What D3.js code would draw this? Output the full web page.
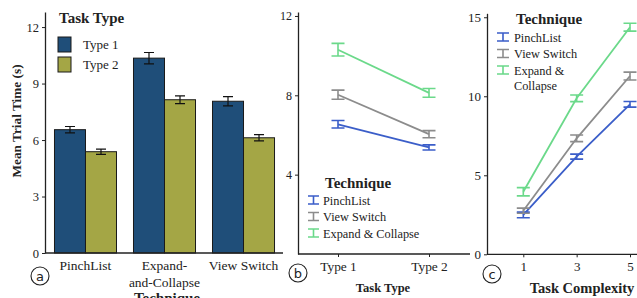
<!DOCTYPE html>
<html><head><meta charset="utf-8">
<script src="https://cdn.jsdelivr.net/npm/d3@7"></script>
<style>
body{margin:0;background:#fff}
svg{display:block}
text{font-family:"Liberation Serif","DejaVu Serif",serif;fill:#222}
</style></head>
<body>
<svg id="c" width="637" height="298"></svg>
<script>
// ---- Data ----
const techniquesA = ["PinchList", "Expand-and-Collapse", "View Switch"];
const taskTypes = ["Type 1", "Type 2"];
const type1Means = [6.55, 10.35, 8.06];
const type1Err = [0.17, 0.3, 0.25];
const type2Means = [5.38, 8.14, 6.12];
const type2Err = [0.14, 0.21, 0.17];
const yTicksA = [0, 3, 6, 9, 12];

const techniquesB = ["PinchList", "View Switch", "Expand & Collapse"];
const bMeans = [[6.54, 5.37], [8.03, 6.04], [10.3, 8.12]];
const bErr = [[0.19, 0.13], [0.23, 0.18], [0.32, 0.22]];
const yTicksB = [4, 8, 12];

const complexity = [1, 3, 5];
const cMeans = [[2.49, 6.18, 9.49], [2.76, 7.34, 11.28], [3.96, 9.87, 14.37]];
const cErr = [[0.18, 0.16, 0.18], [0.16, 0.21, 0.25], [0.26, 0.21, 0.25]];
const yTicksC = [0, 5, 10, 15];

const lineColors = ["#3b5ec9", "#8c8c8c", "#6bd98a"];
const barColors = ["#1f4e79", "#a4a645"];

const svg = d3.select("#c");

function styleAxis(g, fs){
  g.selectAll("path.domain").attr("stroke","#222").attr("stroke-width",1.3);
  g.selectAll(".tick line").attr("stroke","#222");
  g.selectAll(".tick text").style("font-family","'Liberation Serif',serif").style("font-size",fs+"px").attr("fill","#333");
}
function circled(x,y,letter){
  svg.append("circle").attr("cx",x).attr("cy",y).attr("r",9).attr("fill","none").attr("stroke","#222").attr("stroke-width",1.1);
  svg.append("text").attr("x",x).attr("y",y+4.5).attr("text-anchor","middle")
    .style("font-family","'DejaVu Sans',sans-serif").style("font-size","13px").text(letter);
}
function errPath(cx, yTop, yBot, hw){
  return `M${cx-hw},${yTop}H${cx+hw}M${cx},${yTop}V${yBot}M${cx-hw},${yBot}H${cx+hw}`;
}

// ---- Panel a ----
{
  const y = d3.scaleLinear().domain([0,12.8]).range([253,12]);
  const x0 = d3.scaleBand().domain(techniquesA).range([45,284]).paddingInner(0.215).paddingOuter(0.12);
  const x1 = d3.scaleBand().domain(taskTypes).range([0,x0.bandwidth()]);
  const means = [type1Means, type2Means], errs = [type1Err, type2Err];
  taskTypes.forEach((t,ti)=>{
    techniquesA.forEach((c,ci)=>{
      const bx = x0(c)+x1(t), v = means[ti][ci], e = errs[ti][ci];
      svg.append("rect").attr("x",bx).attr("y",y(v)).attr("width",x1.bandwidth()).attr("height",y(0)-y(v))
        .attr("fill",barColors[ti]).attr("stroke","#1a1a1a").attr("stroke-width",1);
      const cx = bx + x1.bandwidth()/2;
      svg.append("path").attr("d",errPath(cx,y(v+e),y(v-e),5))
        .attr("stroke","#111").attr("stroke-width",1.2).attr("fill","none");
    });
  });
  const ga = svg.append("g").attr("transform","translate(45,0)").call(d3.axisLeft(y).tickValues(yTicksA).tickSize(3).tickPadding(3).tickSizeOuter(0));
  styleAxis(ga, 12.5);
  svg.append("line").attr("x1",45).attr("x2",283).attr("y1",253).attr("y2",253).attr("stroke","#222").attr("stroke-width",1.3);
  const lab = {"PinchList":["PinchList"],"Expand-and-Collapse":["Expand-","and-Collapse"],"View Switch":["View Switch"]};
  techniquesA.forEach(c=>{
    const cx = x0(c)+x0.bandwidth()/2;
    lab[c].forEach((l,i)=>svg.append("text").attr("x",cx).attr("y",270+i*16.5).attr("text-anchor","middle").style("font-size","13.5px").text(l));
  });
  svg.append("text").attr("x",167).attr("y",303).attr("text-anchor","middle").style("font-size","15px").style("font-weight","bold").text("Technique");
  svg.append("text").attr("transform","translate(21,121) rotate(-90)").attr("text-anchor","middle").style("font-size","13.3px").style("font-weight","bold").text("Mean Trial Time (s)");
  svg.append("text").attr("x",59).attr("y",22.5).style("font-size","15px").style("font-weight","bold").text("Task Type");
  taskTypes.forEach((t,i)=>{
    svg.append("rect").attr("x",58).attr("y",37+i*20).attr("width",13).attr("height",15).attr("fill",barColors[i]).attr("stroke","#1a1a1a");
    svg.append("text").attr("x",83).attr("y",49+i*20).style("font-size","13px").text(t);
  });
  circled(40,276,"a");
}

// ---- Panel b ----
{
  const y = d3.scaleLinear().domain([0,12.2]).range([254,12]);
  const x = d3.scalePoint().domain(taskTypes).range([338,429]);
  techniquesB.forEach((tq,i)=>{
    const pts = taskTypes.map((t,j)=>[x(t), y(bMeans[i][j])]);
    svg.append("path").attr("d",d3.line()(pts)).attr("stroke",lineColors[i]).attr("stroke-width",1.8).attr("fill","none");
    taskTypes.forEach((t,j)=>{
      const cx=x(t), v=bMeans[i][j], e=bErr[i][j];
      svg.append("path").attr("d",errPath(cx,y(v+e),y(v-e),6.5))
        .attr("stroke",lineColors[i]).attr("stroke-width",1.6).attr("fill","none");
    });
  });
  const gy = svg.append("g").attr("transform","translate(298,0)").call(d3.axisLeft(y).tickValues(yTicksB).tickSize(3).tickPadding(3).tickSizeOuter(0));
  styleAxis(gy, 12);
  const gx = svg.append("g").attr("transform","translate(0,254)").call(d3.axisBottom(x).tickSize(3).tickSizeOuter(0));
  gx.select("path.domain").remove();
  styleAxis(gx, 13.4);
  gx.selectAll(".tick text").attr("dy","0.85em");
  svg.append("line").attr("x1",298).attr("x2",470).attr("y1",254).attr("y2",254).attr("stroke","#222").attr("stroke-width",1.3);
  svg.append("text").attr("x",383).attr("y",292).attr("text-anchor","middle").style("font-size","12.5px").style("font-weight","bold").text("Task Type");
  svg.append("text").attr("x",325).attr("y",188).style("font-size","15px").style("font-weight","bold").text("Technique");
  techniquesB.forEach((tq,i)=>{
    const cy = 200+i*16.5, cx=313.5;
    svg.append("path").attr("d",errPath(cx,cy-4,cy+4,5.5)).attr("stroke",lineColors[i]).attr("stroke-width",1.6).attr("fill","none");
    svg.append("text").attr("x",323).attr("y",cy+4.5).style("font-size","12.3px").text(tq);
  });
  circled(298,273,"b");
}

// ---- Panel c ----
{
  const y = d3.scaleLinear().domain([0,15.25]).range([254.3,13.3]);
  const x = d3.scaleLinear().domain([1,5]).range([523.3,630]);
  techniquesB.forEach((tq,i)=>{
    const pts = complexity.map((c,j)=>[x(c), y(cMeans[i][j])]);
    svg.append("path").attr("d",d3.line()(pts)).attr("stroke",lineColors[i]).attr("stroke-width",1.8).attr("fill","none");
    complexity.forEach((c,j)=>{
      const cx=x(c), v=cMeans[i][j], e=cErr[i][j];
      svg.append("path").attr("d",errPath(cx,y(v+e),y(v-e),6.5))
        .attr("stroke",lineColors[i]).attr("stroke-width",1.6).attr("fill","none");
    });
  });
  const gy = svg.append("g").attr("transform","translate(487,0)").call(d3.axisLeft(y).tickValues(yTicksC).tickSize(3).tickPadding(3).tickSizeOuter(0));
  styleAxis(gy, 13);
  const gx = svg.append("g").attr("transform","translate(0,254.3)").call(d3.axisBottom(x).tickValues(complexity).tickFormat(d3.format("d")).tickSize(3).tickSizeOuter(0));
  gx.select("path.domain").remove();
  styleAxis(gx, 13);
  gx.selectAll(".tick text").attr("dy","0.85em");
  svg.append("line").attr("x1",487).attr("x2",637).attr("y1",254.3).attr("y2",254.3).attr("stroke","#222").attr("stroke-width",1.3);
  svg.append("text").attr("x",582).attr("y",293).attr("text-anchor","middle").style("font-size","14.5px").style("font-weight","bold").text("Task Complexity");
  svg.append("text").attr("x",516).attr("y",24).style("font-size","15px").style("font-weight","bold").text("Technique");
  const labC = [["PinchList"],["View Switch"],["Expand &","Collapse"]];
  labC.forEach((ls,i)=>{
    const cy = 37+i*16.5, cx=503;
    svg.append("path").attr("d",errPath(cx,cy-4,cy+4,6)).attr("stroke",lineColors[i]).attr("stroke-width",1.6).attr("fill","none");
    ls.forEach((l,k)=>svg.append("text").attr("x",514).attr("y",cy+4.5+k*15.5).style("font-size","12.3px").text(l));
  });
  circled(492,274,"c");
}
</script>
</body></html>
